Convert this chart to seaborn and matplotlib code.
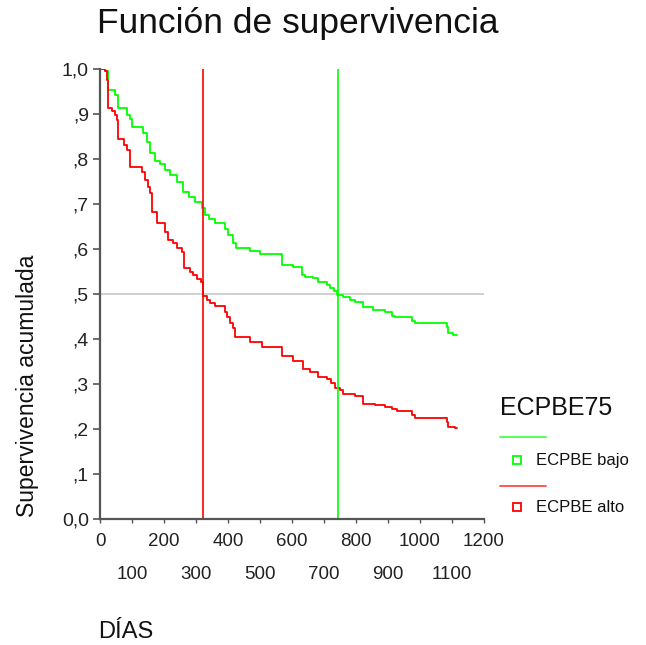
import numpy as np
import pandas as pd
import matplotlib
matplotlib.use("Agg")
import matplotlib.pyplot as plt
from matplotlib.lines import Line2D
import seaborn as sns

# ---- data ----
green_t = [0, 16, 25, 47, 56, 84, 94, 100, 134, 147, 156, 172, 188, 203, 219, 240, 259, 278, 297, 319,
           328, 341, 359, 391, 400, 416, 425, 469, 500, 569, 603, 631, 641, 666, 681, 709, 719, 731, 741, 760,
           781, 797, 822, 853, 891, 912, 922, 975, 984, 1084, 1088, 1103, 1116]
green_s = [1.0, .996, .953, .942, .913, .898, .889, .871, .858, .838, .813, .796, .789, .775, .765, .749, .727, .716, .704, .691,
           .676, .667, .658, .644, .631, .613, .602, .596, .589, .564, .56, .542, .538, .535, .527, .52, .513, .507, .498, .493,
           .487, .482, .471, .464, .46, .451, .449, .44, .436, .427, .413, .409, .409]
red_t = [0, 16, 22, 25, 38, 47, 53, 56, 75, 84, 94, 131, 141, 150, 156, 163, 178, 203, 212, 228,
         241, 256, 263, 281, 291, 303, 316, 322, 334, 344, 359, 391, 397, 406, 416, 422, 469, 506, 569, 603,
         634, 656, 681, 709, 722, 734, 750, 760, 797, 822, 859, 891, 912, 928, 975, 984, 1084, 1088, 1109, 1116]
red_s = [1.0, .996, .976, .913, .907, .898, .887, .845, .831, .82, .782, .771, .753, .738, .724, .682, .658, .638, .62, .613,
         .602, .593, .558, .549, .542, .533, .527, .496, .487, .48, .473, .46, .449, .436, .424, .404, .393, .382, .362, .351,
         .333, .327, .316, .311, .302, .291, .287, .278, .273, .256, .253, .249, .244, .24, .231, .224, .216, .204, .202, .202]
groups = ["ECPBE bajo", "ECPBE alto"]
colors = ["#00ff00", "#ff0000"]
median_bajo = 744
median_alto = 322
ref_level = 0.5
y_ticks = [0.0, 0.1, 0.2, 0.3, 0.4, 0.5, 0.6, 0.7, 0.8, 0.9, 1.0]
y_labels = ["0,0", ",1", ",2", ",3", ",4", ",5", ",6", ",7", ",8", ",9", "1,0"]
x_major = [0, 200, 400, 600, 800, 1000, 1200]
x_minor = [100, 300, 500, 700, 900, 1100]

df = pd.concat([
    pd.DataFrame({"DIAS": green_t, "S": green_s, "grupo": groups[0]}),
    pd.DataFrame({"DIAS": red_t, "S": red_s, "grupo": groups[1]}),
], ignore_index=True)

sns.set_theme(style="white")
plt.rcParams["font.family"] = ["Liberation Sans", "DejaVu Sans"]

fig = plt.figure(figsize=(6.46, 6.45), dpi=100)
ax = fig.add_axes([100 / 646, 1 - 519 / 645, 384 / 646, 450 / 645])

sns.lineplot(data=df, x="DIAS", y="S", hue="grupo", hue_order=groups,
             palette=dict(zip(groups, colors)), estimator=None, sort=False,
             drawstyle="steps-post", linewidth=1.3, legend=False, ax=ax)

ax.axhline(ref_level, color="#c8c8c8", linewidth=1.2, zorder=0)
ax.axvline(median_alto, color=colors[1], linewidth=1.2)
ax.axvline(median_bajo, color=colors[0], linewidth=1.2)

ax.set_xlim(0, 1200)
ax.set_ylim(0, 1.0)
for s in ["top", "right"]:
    ax.spines[s].set_visible(False)
for s in ["left", "bottom"]:
    ax.spines[s].set_color("#555555")
    ax.spines[s].set_linewidth(1.6)

ax.set_yticks(y_ticks)
ax.set_yticklabels(y_labels)
ax.set_xticks(x_major)
ax.set_xticklabels([str(v) for v in x_major])
ax.set_xticks(x_minor, minor=True)
ax.set_xticklabels([str(v) for v in x_minor], minor=True)
ax.tick_params(axis="y", which="major", direction="out", length=5, width=1.2,
               color="#555555", labelsize=14, pad=3, left=True, labelcolor="#222222")
ax.tick_params(axis="x", which="major", direction="out", length=3, width=1.0,
               color="#555555", labelsize=13.5, pad=7, bottom=True, labelcolor="#222222")
ax.tick_params(axis="x", which="minor", direction="out", length=3, width=1.0,
               color="#555555", labelsize=13.5, pad=31, bottom=True, labelcolor="#222222")
ax.set_xlabel("")
ax.set_ylabel("")

fig.text(97 / 646, 1 - 24 / 645, "Función de supervivencia", fontsize=25.5,
         ha="left", va="center", color="#111111")
fig.text(28 / 646, 1 - 517 / 645, "Supervivencia acumulada", fontsize=16.5,
         rotation=90, ha="center", va="bottom", color="#111111")
fig.text(98 / 646, 1 - 632 / 645, "DÍAS", fontsize=17, ha="left", va="center",
         color="#111111")

# legend (SPSS style)
fig.text(500 / 646, 1 - 408 / 645, "ECPBE75", fontsize=18, ha="left", va="center",
         color="#111111")
for i, (g, c) in enumerate(zip(groups, colors)):
    yl = 437 + i * 49
    ym = 460 + i * 47
    fig.add_artist(Line2D([500 / 646, 546 / 646], [1 - yl / 645, 1 - yl / 645],
                          transform=fig.transFigure, color=c, linewidth=1.3, alpha=0.7))
    fig.add_artist(Line2D([517 / 646], [1 - ym / 645], transform=fig.transFigure,
                          marker="s", markersize=5.5, markerfacecolor="white",
                          markeredgecolor=c, markeredgewidth=1.3, linestyle="none"))
    fig.text(536 / 646, 1 - ym / 645, g, fontsize=12, ha="left", va="center",
             color="#111111")

fig.savefig("out.png", dpi=100)
